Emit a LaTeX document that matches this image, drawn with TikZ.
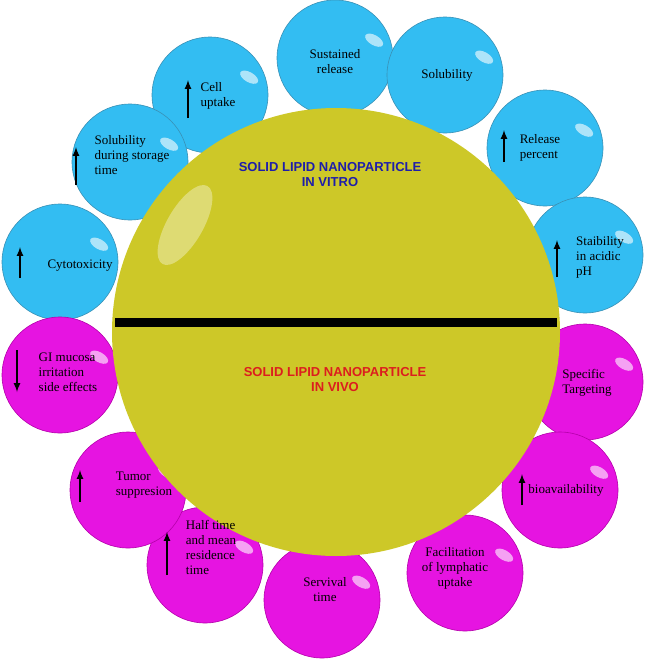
\documentclass[tikz,border=0pt]{standalone}
\usetikzlibrary{calc}
\usepackage{fontspec}
\setmainfont{Liberation Serif}
\newfontfamily\hd{Liberation Sans}
\definecolor{mgf}{RGB}{230,20,225}
\definecolor{mgd}{RGB}{180,0,170}
\definecolor{yl}{RGB}{205,200,40}
\definecolor{bl}{RGB}{30,30,170}
\definecolor{rd}{RGB}{220,30,30}
\begin{document}
\begin{tikzpicture}[x=1pt,y=-1pt,
  cy/.style={circle,minimum size=116pt,inner sep=0pt,fill=cyan!80!white,draw=cyan!70!black,line width=0.6pt},
  mg/.style={circle,minimum size=116pt,inner sep=0pt,fill=mgf,draw=mgd,line width=0.6pt},
  lbl/.style={align=left,font=\fontsize{13}{15}\selectfont,inner sep=0pt},
  up/.style={-latex,line width=2pt},
  hd1/.style={font=\hd\bfseries\fontsize{13}{15}\selectfont,align=center}]
\useasboundingbox (0,0) rectangle (664,659);
\node[cy] (c1) at (210,95) {};
\node[cy] (c2) at (335,58) {};
\node[cy] (c3) at (445,75) {};
\node[cy] (c4) at (545,148) {};
\node[cy] (c5) at (585,255) {};
\node[cy] (c6) at (60,262) {};
\node[cy] (c7) at (130,162) {};
\node[mg] (m1) at (60,375) {};
\node[mg] (m2) at (585,382) {};
\node[mg] (m3) at (560,490) {};
\node[mg] (m4) at (465,573) {};
\node[mg] (m5) at (322,600) {};
\node[mg] (m6) at (205,565) {};
\node[mg] (m7) at (128,490) {};
\foreach \n in {c1,c2,c3,c4,c5,c6,c7,m1,m2,m3,m4,m5,m6,m7}
  \fill[white,opacity=0.6,rotate around={-30:($(\n)+(25,-35)$)}] ($(\n)+(25,-35)$) ellipse (10 and 5);
\fill[yl] (336,332) circle (224);
\fill[white,opacity=0.35,rotate around={60:(185,225)}] (185,225) ellipse (45 and 18);
\draw[line width=9pt] (115,322) -- (557,322);
\node[hd1,text=bl] (t1) at (330,175) {SOLID LIPID NANOPARTICLE\\IN VITRO};
\node[hd1,text=rd] (t2) at (335,380) {SOLID LIPID NANOPARTICLE\\IN VIVO};
\node[lbl] at (218,96) {Cell\\uptake};
\draw[up] (188,118) -- (188,80);
\node[lbl,align=center] at (335,62) {Sustained\\release};
\node[lbl] at (447,75) {Solubility};
\node[lbl] at (540,148) {Release\\percent};
\draw[up] (504,162) -- (504,130);
\node[lbl] at (600,257) {Staibility\\in acidic\\pH};
\draw[up] (557,277) -- (557,240);
\node[lbl] at (80,266) {Cytotoxicity};
\draw[up] (20,278) -- (20,247);
\node[lbl] at (132,155) {Solubility\\during storage\\time};
\draw[up] (76,185) -- (76,147);
\node[lbl] at (68,372) {GI mucosa\\irritation\\side effects};
\draw[up] (17,350) -- (17,392);
\node[lbl] at (587,383) {Specific\\Targeting};
\node[lbl] at (566,490) {bioavailability};
\draw[up] (522,505) -- (522,474);
\node[lbl,align=center] at (455,568) {Facilitation\\of lymphatic\\uptake};
\node[lbl,align=center] at (325,590) {Servival\\time};
\node[lbl] at (211,547) {Half time\\and mean\\residence\\time};
\draw[up] (167,575) -- (167,532);
\node[lbl] at (144,485) {Tumor\\suppresion};
\draw[up] (80,502) -- (80,470);
\end{tikzpicture}
\end{document}
